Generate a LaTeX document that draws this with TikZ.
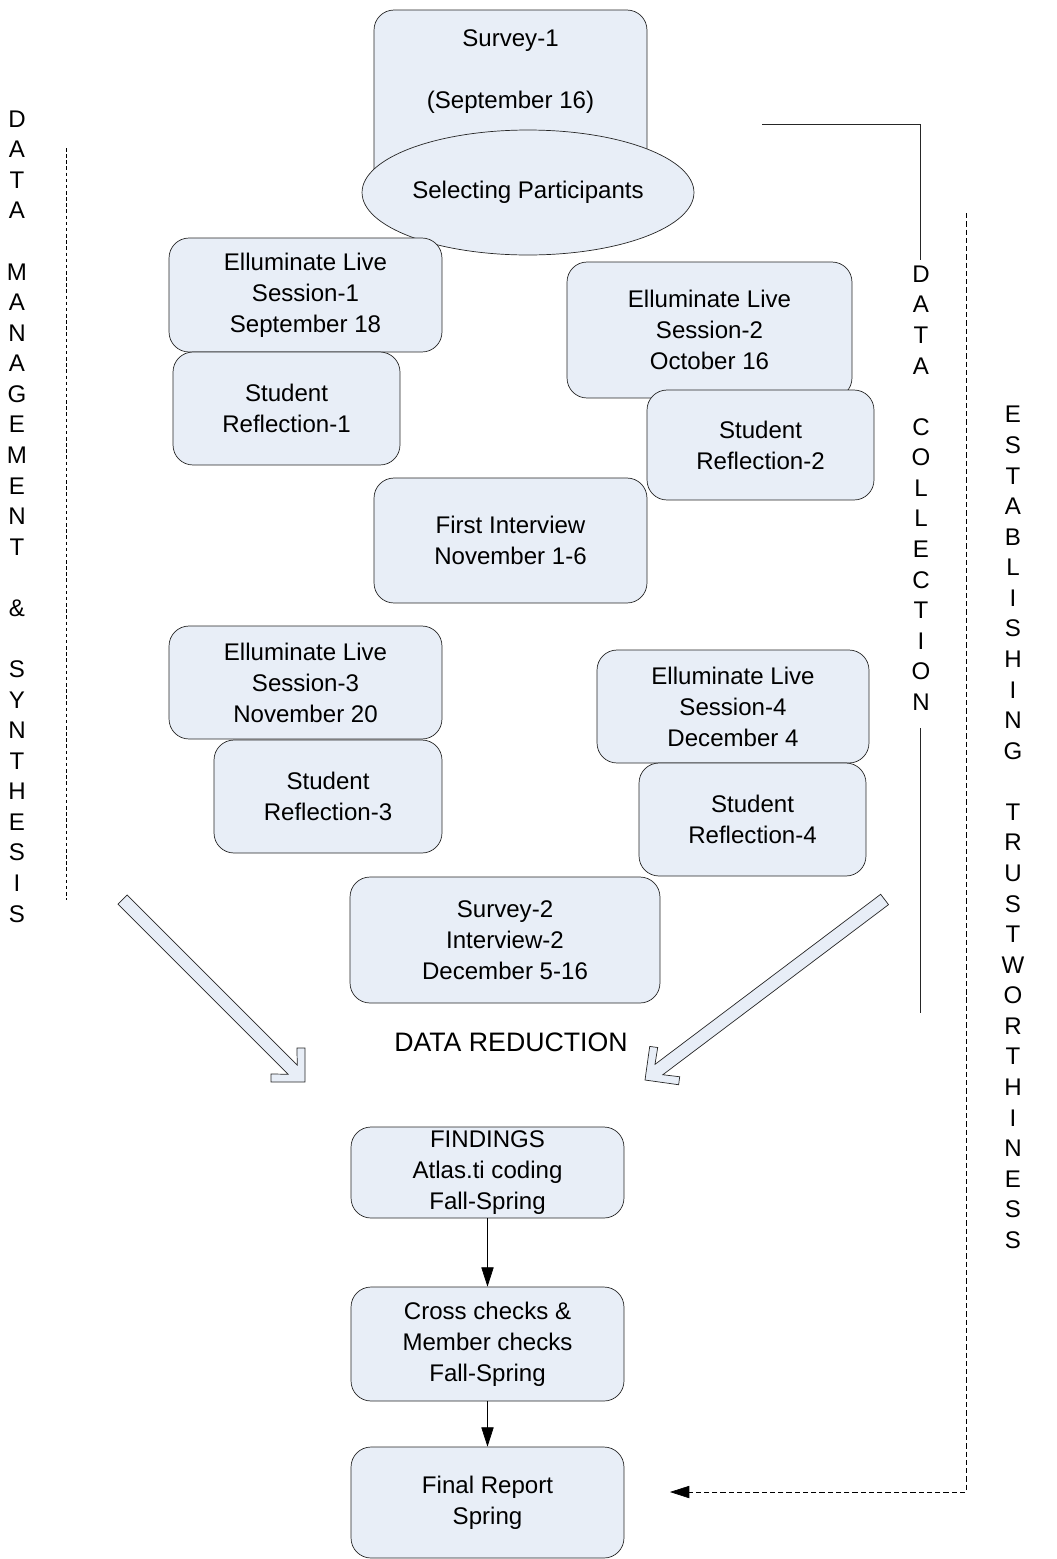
\documentclass[tikz,border=0pt]{standalone}
\usepackage{fontspec}
\setmainfont{Liberation Sans}
\usetikzlibrary{arrows.meta,shapes.geometric}
\definecolor{boxfill}{HTML}{E8EEF7}
\begin{document}
\begin{tikzpicture}[x = 0.02cm, y = -0.02cm,
  box/.style = {draw = black!85, fill = boxfill, rounded corners = 0.4cm, align = center, inner sep = 0pt, font = \fontsize{13.7}{17.6}\selectfont},
  oval/.style = {draw = black!85, fill = boxfill, ellipse, inner sep = 0pt, font = \fontsize{13.7}{17.6}\selectfont},
  boxtext/.style = {align = center, font = \fontsize{13.7}{17.6}\selectfont},
  letters/.style = {align = center, font = \fontsize{13.7}{17.4}\selectfont},
  blockarrow/.style = {draw = black!85, fill = boxfill, line join = miter},
  flow/.style = {-{Triangle[length = 11pt, width = 7pt]}}]
\useasboundingbox (0,0) rectangle (1056,1559);
\node[box, minimum width = 5.46cm, minimum height = 3.72cm] (survey1) at (510.5,103) {};
\node[boxtext] (survey1text) at (510.5,71.5) {Survey-1\\[17.6pt](September 16)};
\node[oval, minimum width = 6.64cm, minimum height = 2.5cm] (select) at (528,192.5) {Selecting Participants};
%
\node[box, minimum width = 5.46cm, minimum height = 2.28cm] (session1) at (305.5,295) {Elluminate Live\\Session-1\\September 18};
\node[box, minimum width = 4.54cm, minimum height = 2.26cm] (reflect1) at (286.5,408.5) {Student\\Reflection-1};
\node[box, minimum width = 5.70cm, minimum height = 2.72cm] (session2) at (709.5,330) {Elluminate Live\\Session-2\\October 16};
\node[box, minimum width = 4.54cm, minimum height = 2.2cm] (reflect2) at (760.5,445) {Student\\Reflection-2};
\node[box, minimum width = 5.46cm, minimum height = 2.5cm] (interview1) at (510.5,540.5) {First Interview\\November 1-6};
%
\node[box, minimum width = 5.46cm, minimum height = 2.26cm] (session3) at (305.5,682.5) {Elluminate Live\\Session-3\\November 20};
\node[box, minimum width = 4.56cm, minimum height = 2.26cm] (reflect3) at (328,796.5) {Student\\Reflection-3};
\node[box, minimum width = 5.44cm, minimum height = 2.26cm] (session4) at (733,706.5) {Elluminate Live\\Session-4\\December 4};
\node[box, minimum width = 4.54cm, minimum height = 2.26cm] (reflect4) at (752.5,819.5) {Student\\Reflection-4};
\node[box, minimum width = 6.2cm, minimum height = 2.52cm] (survey2) at (505,940) {Survey-2\\Interview-2\\December 5-16};
%
\node[font = \fontsize{15.2}{18}\selectfont] (reduction) at (511,1042) {DATA REDUCTION};
\draw[blockarrow, shift = {(305,1082)}, rotate = -45] (0,0) -- (-24,24) -- (-29.7,18.3) -- (-17.4,6.5) -- (-258,6.5) -- (-258,-6.5) -- (-17.4,-6.5) -- (-29.7,-18.3) -- (-24,-24) -- cycle;
\draw[blockarrow, shift = {(645,1080)}, rotate = -143] (0,0) -- (-24,24) -- (-29.7,18.3) -- (-17.4,6.5) -- (-300,6.5) -- (-300,-6.5) -- (-17.4,-6.5) -- (-29.7,-18.3) -- (-24,-24) -- cycle;
%
\node[box, minimum width = 5.46cm, minimum height = 1.82cm] (findings) at (487.5,1172.5) {FINDINGS\\Atlas.ti coding\\Fall-Spring};
\node[box, minimum width = 5.46cm, minimum height = 2.28cm] (crosscheck) at (487.5,1344) {Cross checks \&\\Member checks\\Fall-Spring};
\node[box, minimum width = 5.46cm, minimum height = 2.22cm] (final) at (487.5,1502.5) {Final Report\\Spring};
\draw[flow] (findings) -- (crosscheck);\draw[flow] (crosscheck) -- (final);
%
\node[letters] (management) at (17,516.5) {D\\A\\T\\A\\[17.4pt]M\\A\\N\\A\\G\\E\\M\\E\\N\\T\\[17.4pt]\&\\[17.4pt]S\\Y\\N\\T\\H\\E\\S\\I\\S};
\node[letters] (collection) at (921,488) {D\\A\\T\\A\\[17.4pt]C\\O\\L\\L\\E\\C\\T\\I\\O\\N};
\node[letters] (trust) at (1013,827.5) {E\\S\\T\\A\\B\\L\\I\\S\\H\\I\\N\\G\\[17.4pt]T\\R\\U\\S\\T\\W\\O\\R\\T\\H\\I\\N\\E\\S\\S};
\draw[dash pattern = on 2pt off 1.5pt] (66,148) -- (66,900);
\draw[black!85] (762,124) -- (920,124) -- (920,260);\draw[black!85] (920,728) -- (920,1013);
\coordinate (trustend) at (670,1492);
\draw[flow, dash pattern = on 3pt off 1.7pt] (966,213) -- (966,1492) -- (trustend);
\end{tikzpicture}
\end{document}
